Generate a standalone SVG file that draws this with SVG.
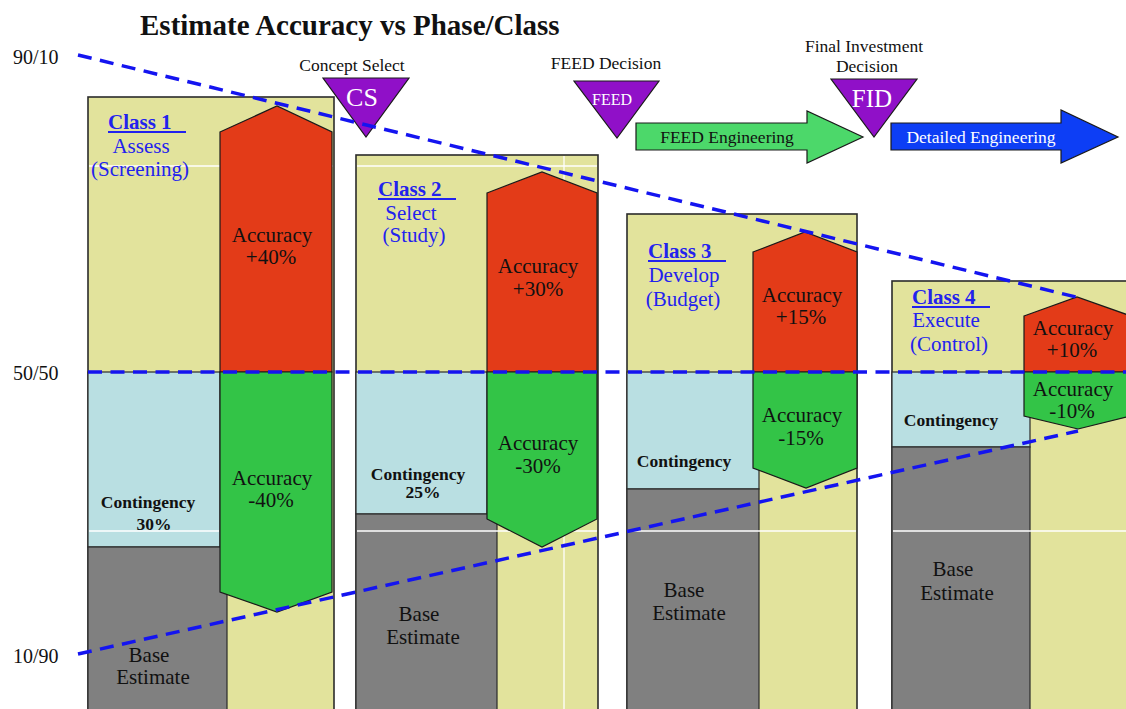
<svg xmlns="http://www.w3.org/2000/svg" width="1126" height="709" viewBox="0 0 1126 709">
<style>
.col{fill:#e2e39c;stroke:#2b2b2b;stroke-width:1.6}
.cont{fill:#b9dfe2;stroke:#2b2b2b;stroke-width:1.2}
.base{fill:#808080;stroke:#2b2b2b;stroke-width:1.2}
.grid{stroke:#ffffff;stroke-width:1.3;fill:none}
.up{fill:#e33b18;stroke:#1a1a1a;stroke-width:1.2}
.dn{fill:#33c447;stroke:#1a1a1a;stroke-width:1.2}
.tri{fill:#9010c8;stroke:#1a1a1a;stroke-width:1.2}
.t{font-family:"Liberation Serif","Times New Roman",serif;fill:#111111}
.acc{font-size:21px;text-anchor:middle}
.cg{font-size:17.5px;font-weight:bold;text-anchor:middle}
.lbl{font-size:17.5px;text-anchor:middle}
.axis{font-size:20px}
.cls{font-family:"Liberation Serif","Times New Roman",serif;fill:#2222ee;font-size:21px}
.b{font-weight:bold}
.ul{stroke:#2222ee;stroke-width:2}
.wt{font-family:"Liberation Serif","Times New Roman",serif;fill:#ffffff;text-anchor:middle}
.dash{stroke:#1414f0;stroke-width:3.5;stroke-dasharray:14 8.5;fill:none}
</style>
<rect x="0" y="0" width="1126" height="709" fill="#ffffff"/>

<text class="t b" x="140" y="35" font-size="29">Estimate Accuracy vs Phase/Class</text>

<g id="axis-labels">
<text class="t axis" x="13" y="64">90/10</text>
<text class="t axis" x="13" y="380">50/50</text>
<text class="t axis" x="13" y="663">10/90</text>
</g>

<g id="class1">
<rect class="col" x="88" y="97" width="246" height="620"/>
<rect class="cont" x="88" y="372" width="132" height="175"/>
<rect class="base" x="88" y="547" width="139" height="170"/>
<line class="grid" x1="89" y1="166" x2="333" y2="166"/>
<line class="grid" x1="89" y1="531" x2="219" y2="531"/>
<polygon class="up" points="220,132 277,106 332,132 332,372 220,372"/>
<polygon class="dn" points="220,372 332,372 332,592 277,612 220,592"/>
<text class="cls b" x="108" y="129">Class 1</text>
<line class="ul" x1="108" y1="132" x2="186" y2="132"/>
<text class="cls" x="141" y="153" text-anchor="middle">Assess</text>
<text class="cls" x="140" y="176" text-anchor="middle">(Screening)</text>
<text class="t acc" x="272" y="242">Accuracy</text>
<text class="t acc" x="271" y="264">+40%</text>
<text class="t acc" x="272" y="485">Accuracy</text>
<text class="t acc" x="271" y="507">-40%</text>
<text class="t cg" x="148" y="508">Contingency</text>
<text class="t cg" x="154" y="530">30%</text>
<text class="t acc" x="149" y="662">Base</text>
<text class="t acc" x="153" y="684">Estimate</text>
</g>

<g id="class2">
<rect class="col" x="356" y="155" width="242" height="562"/>
<rect class="cont" x="356" y="372" width="131" height="142"/>
<rect class="base" x="356" y="514" width="141" height="203"/>
<line class="grid" x1="357" y1="166" x2="597" y2="166"/>
<line class="grid" x1="357" y1="531" x2="597" y2="531"/>
<line class="grid" x1="564" y1="156" x2="564" y2="709"/>
<polygon class="up" points="487,193 542,172 597,193 597,372 487,372"/>
<polygon class="dn" points="487,372 597,372 597,519 542,547 487,519"/>
<text class="cls b" x="378" y="196">Class 2</text>
<line class="ul" x1="378" y1="199" x2="456" y2="199"/>
<text class="cls" x="411" y="220" text-anchor="middle">Select</text>
<text class="cls" x="414" y="242" text-anchor="middle">(Study)</text>
<text class="t acc" x="538" y="273">Accuracy</text>
<text class="t acc" x="538" y="296">+30%</text>
<text class="t acc" x="538" y="450">Accuracy</text>
<text class="t acc" x="538" y="473">-30%</text>
<text class="t cg" x="418" y="480">Contingency</text>
<text class="t cg" x="423" y="498">25%</text>
<text class="t acc" x="419" y="621">Base</text>
<text class="t acc" x="423" y="644">Estimate</text>
</g>

<g id="class3">
<rect class="col" x="627" y="214" width="230" height="503"/>
<rect class="cont" x="627" y="372" width="132" height="117"/>
<rect class="base" x="627" y="489" width="132" height="228"/>
<line class="grid" x1="628" y1="531" x2="856" y2="531"/>
<polygon class="up" points="753,252 805,232 857,252 857,372 753,372"/>
<polygon class="dn" points="753,372 857,372 857,468 806,488 753,468"/>
<text class="cls b" x="648" y="258">Class 3</text>
<line class="ul" x1="648" y1="261" x2="726" y2="261"/>
<text class="cls" x="684" y="282" text-anchor="middle">Develop</text>
<text class="cls" x="683" y="306" text-anchor="middle">(Budget)</text>
<text class="t acc" x="802" y="302">Accuracy</text>
<text class="t acc" x="801" y="324">+15%</text>
<text class="t acc" x="802" y="422">Accuracy</text>
<text class="t acc" x="801" y="445">-15%</text>
<text class="t cg" x="684" y="467">Contingency</text>
<text class="t acc" x="684" y="597">Base</text>
<text class="t acc" x="689" y="620">Estimate</text>
</g>

<g id="class4">
<rect class="col" x="892" y="281" width="250" height="436"/>
<rect class="cont" x="892" y="372" width="138" height="75"/>
<rect class="base" x="892" y="447" width="138" height="270"/>
<line class="grid" x1="893" y1="531" x2="1126" y2="531"/>
<polygon class="up" points="1024,316 1077,297 1131,316 1131,372 1024,372"/>
<polygon class="dn" points="1024,372 1131,372 1131,416 1078,429 1024,416"/>
<text class="cls b" x="912" y="304">Class 4</text>
<line class="ul" x1="912" y1="307" x2="990" y2="307"/>
<text class="cls" x="946" y="327" text-anchor="middle">Execute</text>
<text class="cls" x="949" y="351" text-anchor="middle">(Control)</text>
<text class="t acc" x="1073" y="335">Accuracy</text>
<text class="t acc" x="1072" y="357">+10%</text>
<text class="t acc" x="1073" y="396">Accuracy</text>
<text class="t acc" x="1072" y="418">-10%</text>
<text class="t cg" x="951" y="426">Contingency</text>
<text class="t acc" x="953" y="576">Base</text>
<text class="t acc" x="957" y="600">Estimate</text>
</g>

<g id="feed-engineering">
<polygon points="636,123 807,123 807,111 863,137 807,163 807,150 636,150" fill="#4cd86a" stroke="#1a1a1a" stroke-width="1.2"/>
<text class="t lbl" x="727" y="143">FEED Engineering</text>
</g>

<g id="detailed-engineering">
<polygon points="891,123 1061,123 1061,110 1118,137 1061,163 1061,150 891,150" fill="#0d3ef5" stroke="#1a1a1a" stroke-width="1.2"/>
<text class="wt" x="981" y="143" font-size="17.5">Detailed Engineering</text>
</g>

<g id="concept-select">
<text class="t lbl" x="352" y="71" font-size="17">Concept Select</text>
<polygon class="tri" points="323,78 409,78 366,137"/>
<text class="wt" x="362" y="106" font-size="26">CS</text>
</g>

<g id="feed-decision">
<text class="t lbl" x="606" y="69" font-size="17">FEED Decision</text>
<polygon class="tri" points="574,81 659,81 617,138"/>
<text class="wt" x="612" y="105" font-size="16">FEED</text>
</g>

<g id="final-investment-decision">
<text class="t lbl" x="864" y="52">Final Investment</text>
<text class="t lbl" x="867" y="72">Decision</text>
<polygon class="tri" points="831,79 917,79 874,137"/>
<text class="wt" x="872" y="107" font-size="25">FID</text>
</g>

<g id="guides">
<line class="dash" x1="78" y1="55" x2="1076" y2="297"/>
<line class="dash" x1="88" y1="372" x2="1126" y2="372"/>
<line class="dash" x1="78" y1="654" x2="1078" y2="431"/>
</g>
</svg>
